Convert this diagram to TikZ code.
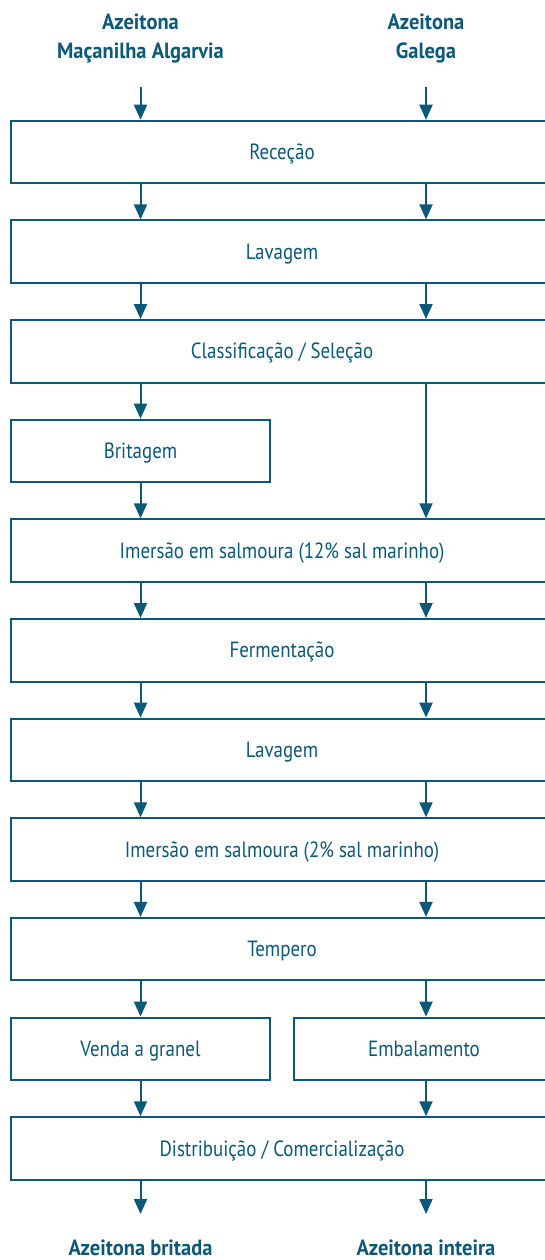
\documentclass[tikz,border=0pt]{standalone}
\usepackage{fontspec}
\setmainfont{PT Sans}[FakeStretch=0.86, BoldFeatures={FakeStretch=0.93}]
\usetikzlibrary{arrows.meta}
\definecolor{flow}{RGB}{12,88,120}
\tikzset{
  stepbox/.style={draw=flow, line width=2pt, rectangle, minimum height=62.5pt, inner sep=0pt,
    text=flow, font=\fontsize{22}{26}\selectfont, text height=19pt, text depth=4pt},
  widebox/.style={stepbox, minimum width=542pt},
  halfbox/.style={stepbox, minimum width=259pt},
  flowarrow/.style={draw=flow, line width=2pt, -{Triangle[width=13pt,length=15pt]}},
  endlabel/.style={text=flow, font=\fontsize{22}{29}\bfseries\selectfont, align=center, inner sep=0pt}
}
\begin{document}
\begin{tikzpicture}[x=1pt,y=-1pt]
\useasboundingbox (0,0) rectangle (544,1260);
% top labels
\node[endlabel] (inL) at (140.5,38.5) {Azeitona\\Maçanilha Algarvia};
\node[endlabel] (inR) at (426,38.5) {Azeitona\\Galega};
\coordinate (sL) at (140.5,87);
\coordinate (sR) at (426,87);
% boxes
\node[widebox] (b1) at (282,152) {Receção};
\node[widebox] (b2) at (282,251.65) {Lavagem};
\node[widebox] (b3) at (282,351.3) {Classificação / Seleção};
\node[halfbox] (b4) at (140.5,450.95) {Britagem};
\node[widebox] (b5) at (282,550.6) {Imersão em salmoura (12\% sal marinho)};
\node[widebox] (b6) at (282,650.25) {Fermentação};
\node[widebox] (b7) at (282,749.9) {Lavagem};
\node[widebox] (b8) at (282,849.55) {Imersão em salmoura (2\% sal marinho)};
\node[widebox] (b9) at (282,949.2) {Tempero};
\node[halfbox] (b10a) at (140.5,1048.85) {Venda a granel};
\node[halfbox, minimum width=260pt] (b10b) at (424,1048.85) {Embalamento};
\node[widebox] (b11) at (282,1148.5) {Distribuição / Comercialização};
% bottom
\coordinate (eL) at (140.5,1214);
\coordinate (eR) at (426,1214);
\node[endlabel, anchor=base, text depth=0pt] (outL) at (140.5,1255.5) {Azeitona britada};
\node[endlabel, anchor=base, text depth=0pt] (outR) at (426,1255.5) {Azeitona inteira};
% arrows
\draw[flowarrow] (sL) -- (sL |- b1.north);
\draw[flowarrow] (sR) -- (sR |- b1.north);
\foreach \a/\b in {b1/b2, b2/b3, b3/b4, b4/b5, b5/b6, b6/b7, b7/b8, b8/b9, b9/b10a, b10a/b11}{
  \draw[flowarrow] (sL |- \a.south) -- (sL |- \b.north);
}
\foreach \a/\b in {b1/b2, b2/b3, b3/b5, b5/b6, b6/b7, b7/b8, b8/b9, b9/b10b, b10b/b11}{
  \draw[flowarrow] (sR |- \a.south) -- (sR |- \b.north);
}
\draw[flowarrow] (sL |- b11.south) -- (eL);
\draw[flowarrow] (sR |- b11.south) -- (eR);
\end{tikzpicture}
\end{document}
